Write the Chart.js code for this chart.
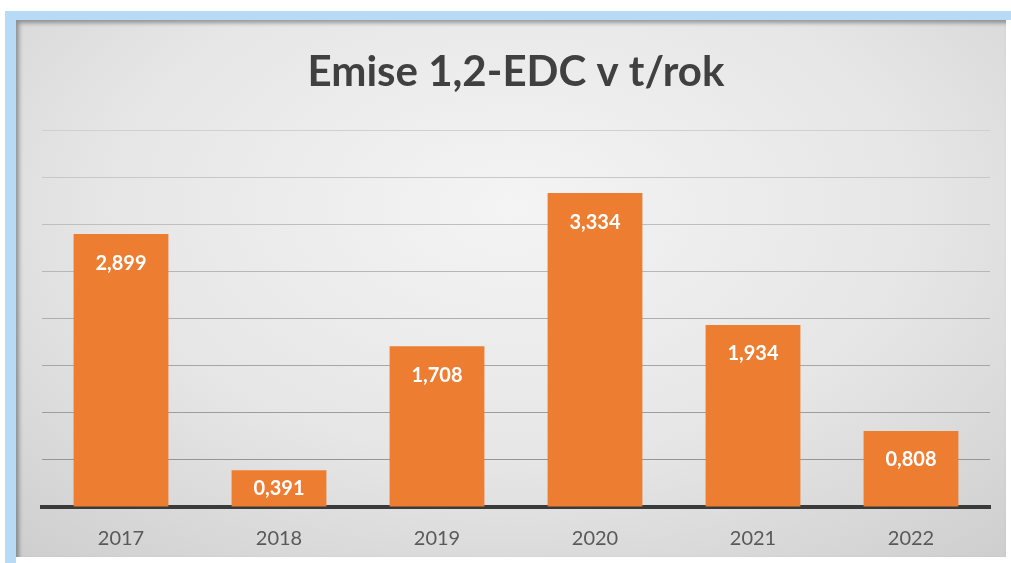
<!DOCTYPE html>
<html>
<head>
<meta charset="utf-8">
<script src="https://cdn.jsdelivr.net/npm/chart.js@4/dist/chart.umd.min.js"></script>
<style>
  html, body { margin: 0; padding: 0; background: #fff; width: 1011px; height: 563px; overflow: hidden; }
  #topband { position: absolute; left: 5px; top: 11px; right: 0; height: 9px; background: #b7dbf6; }
  #leftband { position: absolute; left: 5px; top: 11px; width: 11px; bottom: 0; background: #b7dbf6; }
  #box {
    position: absolute; left: 16px; top: 20px; width: 990px; height: 537px;
    background: radial-gradient(ellipse 75% 85% at 50% 35%, #f4f4f4 0%, #e6e6e6 55%, #cfcfcf 100%);
    box-shadow: inset 3px 3px 4px rgba(0,0,0,0.35);
  }
  #wrap { position: absolute; left: 16px; top: 20px; width: 990px; height: 557px; }
</style>
</head>
<body>
<div id="topband"></div>
<div id="leftband"></div>
<div id="box"></div>
<div id="wrap"><canvas id="graph_canvas"></canvas></div>
<script>
var years = ['2017', '2018', '2019', '2020', '2021', '2022'];
var emise = [2.899, 0.391, 1.708, 3.334, 1.934, 0.808];
var chartTitle = 'Emise 1,2-EDC v t/rok';

// white value labels inside the top of each bar
var barLabels = {
  id: 'barLabels',
  afterDatasetsDraw: function(chart) {
    var ctx = chart.ctx;
    var meta = chart.getDatasetMeta(0);
    ctx.save();
    ctx.fillStyle = '#ffffff';
    ctx.font = 'bold 20px Lato';
    ctx.textAlign = 'center';
    ctx.textBaseline = 'middle';
    meta.data.forEach(function(bar, i) {
      var txt = emise[i].toFixed(3).replace('.', ',');
      var y = Math.min(bar.y + 29, (bar.y + bar.base) / 2);
      ctx.fillText(txt, bar.x, y);
    });
    ctx.restore();
  }
};

// gridlines fade out towards the top, like the screenshot
function gridColor(c) {
  var v = c.tick ? c.tick.value : 0;
  var g = Math.round(0x8c + (0xd0 - 0x8c) * v / 4);
  return 'rgb(' + g + ',' + g + ',' + g + ')';
}

window.onload = function(){
  var graph_ctx = document.getElementById("graph_canvas").getContext("2d");
  window.stats_graph = new Chart(graph_ctx, {
    type: 'bar',
    data: {
      labels: years,
      datasets: [{
        data: emise,
        backgroundColor: '#ed7d31',
        borderWidth: 0,
        categoryPercentage: 1,
        barPercentage: 0.6
      }]
    },
    options: {
      responsive: true,
      maintainAspectRatio: false,
      animation: false,
      layout: { padding: { left: 26, right: 16, top: 16, bottom: 6 } },
      plugins: {
        legend: { display: false },
        tooltip: { enabled: false },
        title: {
          display: true,
          text: chartTitle,
          color: '#404040',
          font: { family: 'Lato', size: 42, weight: 'bold' },
          padding: { top: 11, bottom: 33 }
        }
      },
      scales: {
        x: {
          grid: { display: false, drawTicks: false },
          border: { color: '#3a3a3a', width: 4 },
          ticks: { color: '#595959', font: { family: 'Lato', size: 20 }, padding: 20 }
        },
        y: {
          min: 0,
          max: 4,
          ticks: { display: false, stepSize: 0.5 },
          grid: { color: gridColor, lineWidth: 1, drawTicks: false },
          border: { display: false }
        }
      }
    },
    plugins: [barLabels]
  });
};
</script>
</body>
</html>
